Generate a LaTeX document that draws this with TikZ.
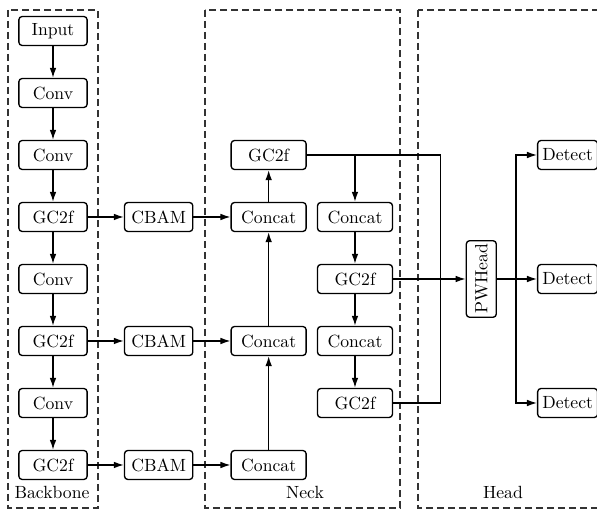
\documentclass[tikz,border=0pt]{standalone}
\usepackage{tikz}
\usetikzlibrary{arrows.meta,positioning}

\begin{document}
\begin{tikzpicture}[
    x=0.6pt,y=-0.6pt,
    node distance=19pt and 21.6pt,
    box/.style={draw,rounded corners=2pt,line width=0.8pt,minimum width=41pt,
                minimum height=17.4pt,inner sep=2pt,font=\fontsize{10.6}{12.5}\selectfont},
    neckbox/.style={box,minimum width=45pt},
    arrow/.style={-{Latex[length=6pt,width=4pt]},line width=0.8pt},
    link/.style={line width=0.8pt},
    group/.style={dash pattern=on 4.2pt off 2.4pt,line width=0.7pt,black!80},
    grouplabel/.style={font=\fontsize{10.6}{12.5}\selectfont}]
    \useasboundingbox (0,0) rectangle (597,509);
    % backbone
    \node[box] (in) at (53,31) {Input};
    \node[box,below=of in] (cv1) {Conv};
    \node[box,below=of cv1] (cv2) {Conv};
    \node[box,below=of cv2] (gc1) {GC2f};
    \node[box,below=of gc1] (cv3) {Conv};
    \node[box,below=of cv3] (gc2) {GC2f};
    \node[box,below=of gc2] (cv4) {Conv};
    \node[box,below=of cv4] (gc3) {GC2f};
    \node[box,right=of gc1] (cb1) {CBAM};
    \node[box,right=of gc2] (cb2) {CBAM};
    \node[box,right=of gc3] (cb3) {CBAM};
    % neck
    \node[neckbox,right=22.2pt of cb1] (ct1) {Concat};
    \node[neckbox,right=22.2pt of cb2] (ct2) {Concat};
    \node[neckbox,right=22.2pt of cb3] (ct3) {Concat};
    \node[neckbox,above=of ct1] (gn1) {GC2f};
    \node[neckbox,right=6pt of ct1] (rc1) {Concat};
    \node[neckbox,below=of rc1] (rg1) {GC2f};
    \node[neckbox,below=of rg1] (rc2) {Concat};
    \node[neckbox,below=of rc2] (rg2) {GC2f};
    % head
    \node[box,minimum width=18pt,minimum height=45.6pt,right=43.5pt of rg1]
         (pw) {\rotatebox{90}{PWHead}};
    \node[box,minimum width=36pt,right=24pt of pw] (d2) {Detect};
    \node[box,minimum width=36pt] (d1) at (d2 |- gn1) {Detect};
    \node[box,minimum width=36pt] (d3) at (d2 |- rg2) {Detect};
    \coordinate[right=28.5pt of rg1.east] (jn);
    \coordinate[right=11.4pt of pw.east] (js);
    % groups
    \draw[group] (8,10) rectangle (98,508);
    \draw[group] (205,10) rectangle (400,508);
    \draw[group] (418,10) rectangle (610,508);
    \node[grouplabel] (bblab) at (52,492) {Backbone};
    \node[grouplabel] (nklab) at (305,492) {Neck};
    \node[grouplabel] (hdlab) at (503,492) {Head};
    % connections
    \draw[arrow] (in) -- (cv1);
    \draw[arrow] (cv1) -- (cv2);
    \draw[arrow] (cv2) -- (gc1);
    \draw[arrow] (gc1) -- (cv3);
    \draw[arrow] (cv3) -- (gc2);
    \draw[arrow] (gc2) -- (cv4);
    \draw[arrow] (cv4) -- (gc3);
    \draw[arrow] (gc1) -- (cb1);
    \draw[arrow] (gc2) -- (cb2);
    \draw[arrow] (gc3) -- (cb3);
    \draw[arrow] (cb1) -- (ct1);
    \draw[arrow] (cb2) -- (ct2);
    \draw[arrow] (cb3) -- (ct3);
    \draw[arrow] (ct3) -- (ct2);
    \draw[arrow] (ct2) -- (ct1);
    \draw[arrow] (ct1) -- (gn1);
    \draw[link] (gn1.east) -| (jn) |- (rg2.east);
    \draw[arrow] (rc1 |- gn1) -- (rc1);
    \draw[arrow] (rc1) -- (rg1);
    \draw[arrow] (rg1) -- (rc2);
    \draw[arrow] (rc2) -- (rg2);
    \draw[arrow] (rg1) -- (pw);
    \draw[link] (pw) -- (js);
    \draw[arrow] (js) -- (d2);
    \draw[arrow] (js) |- (d1);
    \draw[arrow] (js) |- (d3);
  \end{tikzpicture}
\end{document}
